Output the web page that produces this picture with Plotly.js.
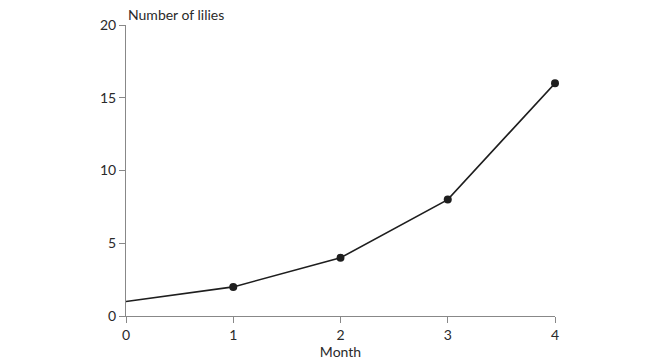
<!DOCTYPE html>
<html>
<head>
<meta charset="utf-8">
<script src="https://cdn.plot.ly/plotly-3.0.1.min.js"></script>
<style>html,body{margin:0;padding:0;background:#fff;}#chart{width:660px;height:360px;}</style>
</head>
<body>
<div id="chart"></div>
<script>
var months = [0, 1, 2, 3, 4];
var lilies = [1, 2, 4, 8, 16];
var markerSizes = [0, 8, 8, 8, 8];
var yTicks = [0, 5, 10, 15, 20];
var xTicks = [0, 1, 2, 3, 4];

var font = {family: 'Lato, "Open Sans", sans-serif', size: 14, color: '#2a2a2a'};

var trace = {
  x: months, y: lilies, type: 'scatter', mode: 'lines+markers',
  line: {color: '#1e1e1e', width: 1.6},
  marker: {color: '#1e1e1e', size: markerSizes, opacity: 1, line: {width: 0}},
  cliponaxis: false, hoverinfo: 'none'
};

var layout = {
  width: 660, height: 360,
  margin: {l: 126, r: 105, t: 25, b: 44},
  paper_bgcolor: '#fff', plot_bgcolor: '#fff',
  showlegend: false,
  font: font,
  xaxis: {
    range: [0, 4], tickvals: xTicks, ticktext: xTicks.map(String),
    showgrid: false, zeroline: false, showline: true, linecolor: '#888', linewidth: 1,
    ticks: 'outside', ticklen: 6, tickcolor: '#888', tickfont: font,
    title: {text: 'Month', font: font, standoff: 5}
  },
  yaxis: {
    range: [0, 20], tickvals: yTicks, ticktext: yTicks.map(String),
    showgrid: false, zeroline: false, showline: true, linecolor: '#888', linewidth: 1,
    ticks: 'outside', ticklen: 6, tickcolor: '#888', tickfont: font
  },
  annotations: [{
    text: 'Number of lilies', xref: 'paper', yref: 'paper', x: 0, y: 1,
    xanchor: 'left', yanchor: 'bottom', xshift: 0, yshift: 0, showarrow: false, font: font
  }]
};

Plotly.newPlot('chart', [trace], layout, {staticPlot: true, displayModeBar: false});
</script>
</body>
</html>
